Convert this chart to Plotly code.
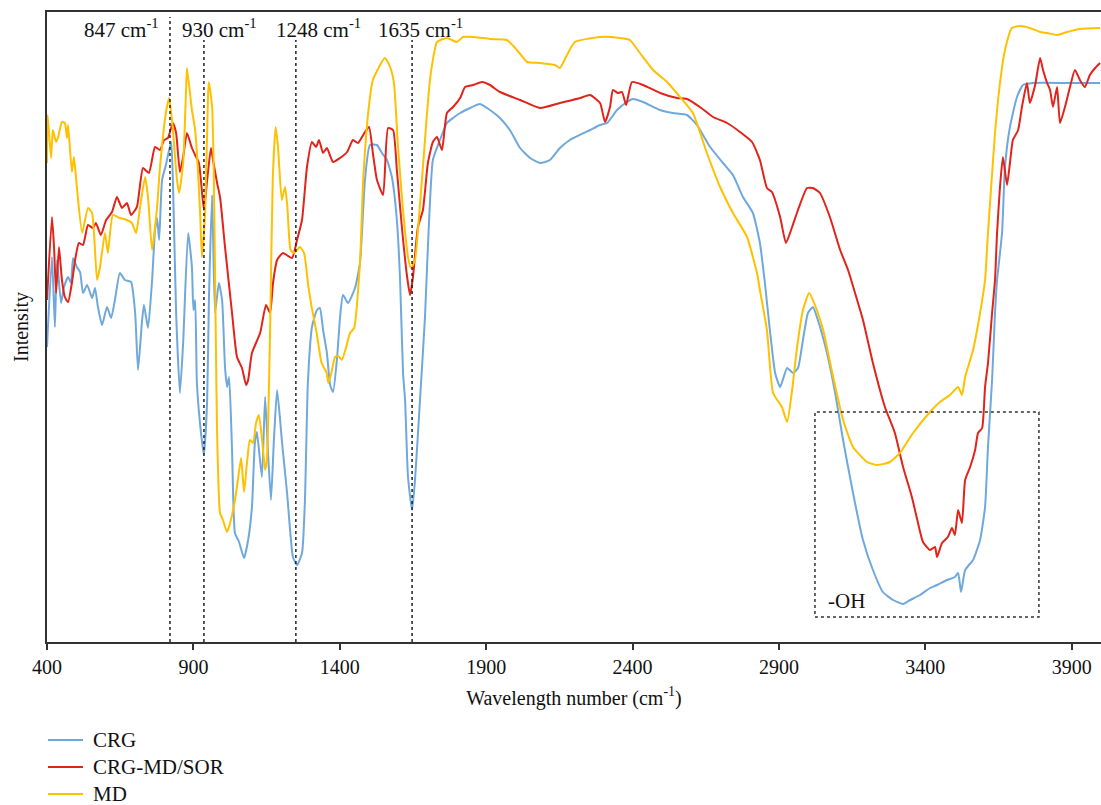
import plotly.graph_objects as go

# ---------------- data (wavenumber in cm-1, intensity in arbitrary units) ----------------
crg_x = [400, 417, 427, 434, 448, 458, 472, 482, 489, 502, 513, 523, 537, 554, 564, 574, 588, 605, 619, 632,
         649, 666, 687, 701, 711, 724, 731, 745, 759, 769, 776, 783, 793, 806, 824, 830, 841, 854, 865, 882,
         895, 900, 906, 912, 926, 936, 947, 953, 964, 974, 987, 998, 1008, 1015, 1022, 1032, 1042, 1056, 1073, 1087,
         1100, 1110, 1117, 1134, 1145, 1155, 1165, 1175, 1186, 1203, 1220, 1240, 1254, 1271, 1281, 1291, 1305, 1322, 1332, 1343,
         1356, 1367, 1377, 1391, 1401, 1411, 1428, 1452, 1469, 1486, 1503, 1527, 1544, 1561, 1578, 1595, 1606, 1616, 1623, 1633,
         1647, 1657, 1674, 1691, 1701, 1718, 1742, 1766, 1787, 1811, 1845, 1879, 1913, 1947, 1981, 2016, 2050, 2084, 2118, 2152,
         2186, 2255, 2289, 2313, 2347, 2381, 2402, 2436, 2494, 2538, 2586, 2620, 2665, 2709, 2743, 2777, 2811, 2835, 2852, 2869,
         2887, 2904, 2928, 2948, 2965, 2982, 2999, 3016, 3033, 3064, 3092, 3119, 3153, 3187, 3221, 3255, 3290, 3324, 3348, 3382,
         3416, 3440, 3474, 3501, 3512, 3522, 3536, 3563, 3587, 3604, 3614, 3628, 3638, 3645, 3662, 3672, 3689, 3713, 3734, 3768,
         3884, 3997]
crg_y = [295, 385, 315, 382, 339, 355, 365, 359, 384, 375, 370, 349, 357, 344, 354, 335, 317, 335, 324, 342,
         369, 362, 360, 329, 272, 319, 337, 314, 362, 412, 424, 402, 462, 477, 500, 462, 329, 249, 299, 409,
         375, 332, 342, 259, 209, 187, 242, 342, 447, 329, 359, 342, 275, 255, 265, 192, 109, 100, 84, 102,
         135, 199, 210, 165, 245, 189, 142, 202, 252, 199, 149, 85, 77, 89, 142, 259, 315, 332, 334, 312,
         289, 257, 250, 285, 325, 347, 339, 354, 379, 462, 497, 497, 489, 482, 465, 422, 362, 269, 242, 165,
         132, 162, 242, 325, 395, 482, 502, 519, 524, 529, 534, 538, 532, 524, 512, 494, 484, 479, 482, 494,
         502, 512, 517, 519, 532, 540, 543, 540, 532, 529, 527, 517, 495, 479, 467, 445, 429, 399, 359, 312,
         269, 255, 274, 269, 274, 302, 329, 335, 322, 289, 249, 202, 149, 102, 72, 50, 42, 38, 42, 47,
         54, 57, 62, 65, 69, 50, 72, 82, 102, 135, 195, 262, 329, 362, 409, 475, 515, 545, 557, 559,
         559, 559]

sor_x = [400, 417, 424, 431, 441, 451, 461, 472, 485, 496, 509, 523, 540, 557, 567, 584, 602, 622, 639, 656,
         673, 687, 707, 728, 748, 769, 786, 800, 813, 830, 841, 854, 865, 878, 895, 906, 919, 936, 947, 960,
         967, 981, 991, 1008, 1032, 1049, 1066, 1080, 1087, 1100, 1128, 1148, 1162, 1172, 1186, 1206, 1237, 1254, 1271, 1288,
         1305, 1319, 1329, 1343, 1356, 1377, 1401, 1425, 1445, 1462, 1486, 1500, 1513, 1527, 1548, 1565, 1582, 1595, 1613, 1630,
         1640, 1650, 1667, 1684, 1701, 1718, 1732, 1749, 1766, 1787, 1811, 1828, 1855, 1886, 1913, 1947, 2016, 2084, 2152, 2221,
         2255, 2289, 2306, 2323, 2333, 2350, 2364, 2378, 2398, 2436, 2494, 2552, 2586, 2630, 2675, 2723, 2767, 2808, 2835, 2859,
         2876, 2904, 2924, 2945, 2965, 2996, 3016, 3040, 3074, 3109, 3136, 3167, 3187, 3221, 3262, 3296, 3324, 3354, 3375, 3392,
         3416, 3433, 3440, 3457, 3477, 3491, 3501, 3512, 3525, 3536, 3553, 3570, 3580, 3594, 3604, 3614, 3628, 3638, 3645, 3655,
         3665, 3679, 3689, 3699, 3717, 3730, 3747, 3757, 3775, 3792, 3802, 3816, 3826, 3836, 3850, 3860, 3877, 3894, 3911, 3928,
         3945, 3962, 3980, 3997]
sor_y = [342, 425, 395, 349, 395, 362, 345, 340, 359, 382, 399, 397, 417, 414, 419, 407, 422, 430, 445, 434,
         439, 427, 435, 474, 469, 495, 492, 502, 504, 519, 509, 470, 485, 509, 494, 487, 479, 432, 462, 494,
         482, 459, 445, 395, 329, 285, 274, 257, 262, 289, 309, 337, 329, 359, 382, 389, 384, 402, 422, 475,
         500, 495, 502, 489, 494, 480, 484, 490, 502, 499, 510, 515, 489, 462, 447, 514, 512, 472, 412, 365,
         347, 365, 415, 432, 479, 500, 505, 492, 529, 535, 544, 555, 557, 560, 557, 550, 542, 534, 539, 544,
         547, 539, 520, 535, 552, 549, 550, 537, 560, 557, 549, 544, 543, 535, 525, 519, 510, 500, 482, 454,
         450, 425, 399, 415, 432, 454, 454, 449, 425, 392, 372, 342, 322, 279, 235, 209, 175, 145, 119, 100,
         92, 95, 85, 99, 105, 114, 107, 132, 119, 162, 175, 192, 209, 214, 255, 279, 329, 362, 409, 455,
         485, 457, 479, 502, 512, 535, 559, 539, 557, 584, 572, 559, 552, 535, 555, 519, 535, 555, 572, 562,
         555, 567, 574, 579]

md_x = [400, 402, 414, 420, 431, 438, 451, 461, 468, 472, 485, 492, 502, 520, 540, 554, 571, 581, 598, 608,
        625, 649, 673, 690, 704, 718, 735, 745, 759, 776, 786, 806, 817, 827, 844, 851, 865, 875, 878, 895,
        906, 923, 929, 940, 950, 953, 964, 970, 977, 981, 991, 1001, 1015, 1028, 1042, 1052, 1063, 1073, 1083, 1093,
        1104, 1114, 1124, 1138, 1145, 1151, 1162, 1171, 1181, 1189, 1202, 1213, 1221, 1232, 1244, 1264, 1278, 1293, 1304, 1321,
        1338, 1355, 1361, 1372, 1384, 1395, 1407, 1421, 1435, 1449, 1469, 1480, 1497, 1513, 1554, 1572, 1585, 1599, 1616, 1633,
        1643, 1657, 1667, 1684, 1698, 1708, 1718, 1732, 1766, 1800, 1821, 1855, 1913, 1971, 2005, 2040, 2084, 2135, 2152, 2176,
        2203, 2289, 2357, 2391, 2425, 2470, 2518, 2562, 2606, 2654, 2699, 2743, 2791, 2825, 2835, 2859, 2880, 2910, 2928, 2945,
        2962, 2982, 3003, 3023, 3051, 3085, 3119, 3153, 3201, 3235, 3279, 3313, 3358, 3416, 3450, 3484, 3512, 3525, 3536, 3563,
        3587, 3604, 3614, 3638, 3655, 3672, 3696, 3723, 3757, 3792, 3816, 3850, 3884, 3928, 3997]
md_y = [479, 527, 484, 512, 500, 505, 520, 519, 504, 517, 470, 485, 455, 409, 434, 429, 362, 375, 409, 389,
        427, 424, 422, 419, 409, 435, 465, 445, 392, 435, 475, 529, 544, 522, 462, 449, 479, 552, 574, 532,
        512, 429, 385, 429, 547, 560, 535, 462, 295, 209, 129, 122, 110, 122, 142, 162, 184, 150, 179, 202,
        199, 219, 227, 192, 172, 182, 312, 462, 515, 495, 442, 455, 435, 392, 389, 395, 389, 355, 335, 309,
        279, 269, 259, 270, 285, 286, 282, 294, 309, 314, 379, 462, 529, 562, 584, 575, 559, 495, 432, 385,
        374, 382, 412, 475, 529, 562, 582, 600, 604, 600, 605, 605, 603, 602, 592, 580, 579, 577, 574, 587,
        600, 605, 604, 602, 589, 572, 560, 545, 529, 489, 455, 429, 405, 369, 352, 312, 249, 235, 220, 252,
        295, 332, 349, 337, 312, 265, 222, 195, 180, 177, 180, 189, 209, 230, 240, 247, 255, 247, 265, 292,
        329, 362, 409, 509, 559, 592, 614, 616, 614, 610, 609, 607, 610, 613, 614]

series_names = ["CRG", "CRG-MD/SOR", "MD"]

tick_vals = [400, 900, 1400, 1900, 2400, 2900, 3400, 3900]

peak_labels = ["847", "930", "1248", "1635"]
peak_line_x = [820, 936, 1250, 1647]
peak_line_top = [625, 602, 602, 602]
peak_text_x = [656, 988, 1326, 1677]

oh_box_x = [3023, 3788]
oh_box_y = [25, 230]

FONT = "Liberation Serif"
COLORS = ["#6fa8dc", "#e2231a", "#ffc000"]

# figure geometry (pixels)
W, H = 1101, 805
ML, MR, MT, MB = 47, 0, 12, 163
PW, PH = W - ML - MR, H - MT - MB


def px_to_paper(px, py):
    return (px - ML) / PW, (H - MB - py) / PH


fig = go.Figure()
for name, xs, ys, col in zip(series_names, [crg_x, sor_x, md_x], [crg_y, sor_y, md_y], COLORS):
    fig.add_trace(go.Scatter(x=xs, y=ys, mode="lines", name=name, showlegend=False,
                             line=dict(color=col, width=2, shape="spline", smoothing=0.5)))

shapes = []
annotations = []
for lab, lx, top, tx in zip(peak_labels, peak_line_x, peak_line_top, peak_text_x):
    shapes.append(dict(type="line", xref="x", yref="y", x0=lx, x1=lx, y0=0, y1=top,
                       line=dict(color="#222", width=1.5, dash="dot")))
    annotations.append(dict(xref="x", yref="y", x=tx, y=614, text=f"{lab} cm<sup>-1</sup>",
                            showarrow=False, font=dict(family=FONT, size=21, color="#111"),
                            xanchor="center", yanchor="middle"))
shapes.append(dict(type="rect", xref="x", yref="y", x0=oh_box_x[0], x1=oh_box_x[1],
                   y0=oh_box_y[0], y1=oh_box_y[1], line=dict(color="#333", width=1.5, dash="dot")))
annotations.append(dict(xref="x", yref="y", x=3061, y=41, text="-OH", showarrow=False,
                        font=dict(family=FONT, size=21, color="#111"), xanchor="left", yanchor="middle"))

# legend below the plot (line sample + label)
leg_rows_py = [740, 767, 794]
for name, col, py in zip(series_names, COLORS, leg_rows_py):
    x0, y0 = px_to_paper(48, py)
    x1, _ = px_to_paper(83, py)
    xt, _ = px_to_paper(91, py)
    shapes.append(dict(type="line", xref="paper", yref="paper", x0=x0, x1=x1, y0=y0, y1=y0,
                       line=dict(color=col, width=2)))
    annotations.append(dict(xref="paper", yref="paper", x=xt, y=y0, text=name, showarrow=False,
                            xanchor="left", yanchor="middle",
                            font=dict(family=FONT, size=21, color="#111")))

fig.update_layout(
    width=W, height=H,
    margin=dict(l=ML, r=MR, t=MT, b=MB),
    paper_bgcolor="white", plot_bgcolor="white",
    font=dict(family=FONT, size=20, color="#111"),
    shapes=shapes, annotations=annotations,
    showlegend=False,
    xaxis=dict(range=[400, 4000], tickvals=tick_vals, ticktext=[str(v) for v in tick_vals],
               ticks="outside", ticklen=6, tickwidth=1.5, tickcolor="#333",
               showline=True, linecolor="#333", linewidth=1.5, mirror=True,
               showgrid=False, zeroline=False,
               tickfont=dict(family=FONT, size=20, color="#111"),
               title=dict(text="Wavelength number (cm<sup>-1</sup>)", standoff=14,
                          font=dict(family=FONT, size=20, color="#111"))),
    yaxis=dict(range=[0, 630], showticklabels=False, ticks="", showline=True,
               linecolor="#333", linewidth=1.5, mirror=False, showgrid=False, zeroline=False,
               title=dict(text="Intensity", standoff=11,
                          font=dict(family=FONT, size=20, color="#111"))),
)

fig.write_html("out.html", config={"displayModeBar": False},
               post_script="document.body.style.margin='0px';")
